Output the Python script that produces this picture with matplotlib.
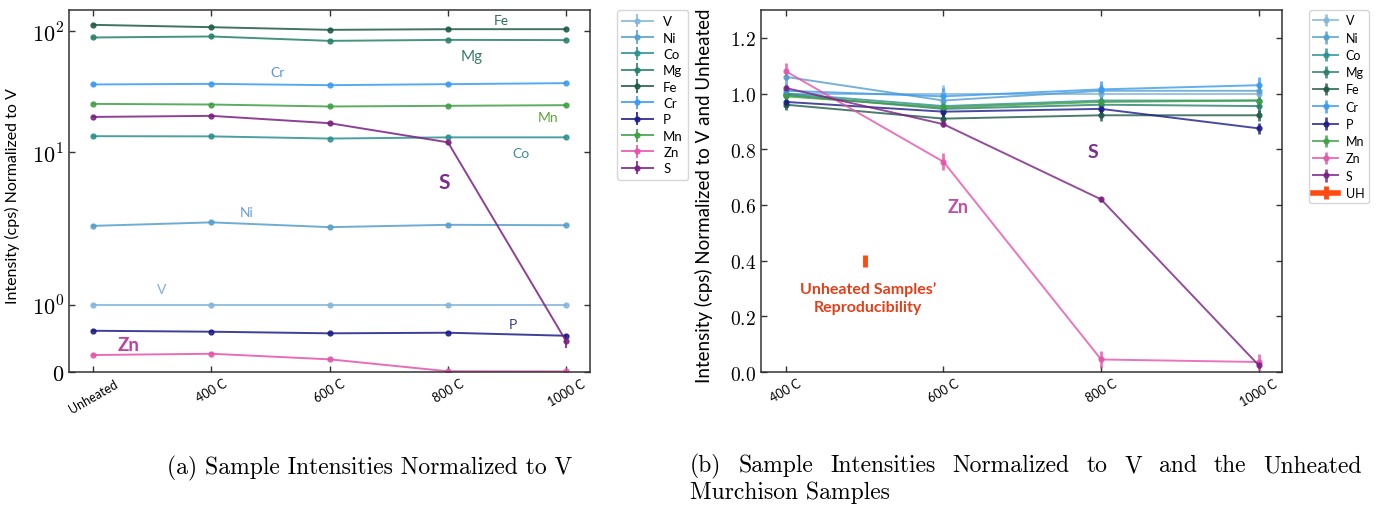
import matplotlib
matplotlib.use('Agg')
import matplotlib.pyplot as plt

plt.rcParams['mathtext.fontset'] = 'cm'
plt.rcParams['font.family'] = ['Lato', 'DejaVu Sans']

# ---------------- data ----------------
elements = ['V', 'Ni', 'Co', 'Mg', 'Fe', 'Cr', 'P', 'Mn', 'Zn', 'S']
colors = ['#82b6da', '#559fcc', '#2b9090', '#27806a', '#1f5a48',
          '#3a9af0', '#1c1c8a', '#3f9f45', '#e454aa', '#7a1f82']

temps_a = ['Unheated', '400 C', '600 C', '800 C', '1000 C']
temps_b = ['400 C', '600 C', '800 C', '1000 C']

# (a) intensities normalized to V
V_a = [1.0, 1.0, 1.0, 1.0, 1.0]
Ni_a = [2.48, 2.65, 2.42, 2.53, 2.51]
Co_a = [13.6, 13.55, 13.0, 13.3, 13.3]
Mg_a = [88.5, 90.2, 83.0, 84.6, 84.2]
Fe_a = [112.5, 107.6, 102.3, 103.6, 103.6]
Cr_a = [36.3, 36.7, 35.8, 36.5, 37.2]
P_a = [0.612, 0.598, 0.574, 0.583, 0.538]
Mn_a = [25.1, 24.8, 23.9, 24.2, 24.5]
Zn_a = [0.252, 0.271, 0.188, 0.011, 0.009]
S_a = [19.6, 20.0, 17.4, 12.1, 0.455]
err_a = [0.01, 0.03, 0.1, 0.5, 0.5, 0.2, 0.005, 0.1, 0.003, 0.1]

# (b) normalized to V and unheated samples
V_b = [1.00, 1.00, 1.00, 1.00]
Ni_b = [1.06, 0.975, 1.01, 1.01]
Co_b = [1.00, 0.955, 0.975, 0.975]
Mg_b = [0.995, 0.945, 0.96, 0.955]
Fe_b = [0.96, 0.91, 0.922, 0.922]
Cr_b = [1.01, 0.99, 1.015, 1.03]
P_b = [0.97, 0.935, 0.945, 0.875]
Mn_b = [0.99, 0.95, 0.97, 0.975]
Zn_b = [1.08, 0.755, 0.045, 0.036]
S_b = [1.02, 0.89, 0.62, 0.024]
err_b = [0.03, 0.02, 0.02, 0.02, 0.02, 0.03, 0.02, 0.015, 0.03, 0.01]

uh_x, uh_y, uh_err = 0.5, 0.398, 0.021

series_a = [V_a, Ni_a, Co_a, Mg_a, Fe_a, Cr_a, P_a, Mn_a, Zn_a, S_a]
series_b = [V_b, Ni_b, Co_b, Mg_b, Fe_b, Cr_b, P_b, Mn_b, Zn_b, S_b]

# ---------------- figure ----------------
fig = plt.figure(figsize=(13.76, 5.06), dpi=100)
ax1 = fig.add_axes([0.0501, 0.2628, 0.3786, 0.7154])
ax2 = fig.add_axes([0.5531, 0.2628, 0.3789, 0.7154])

for ax in (ax1, ax2):
    for sp in ax.spines.values():
        sp.set_color('#333333')
        sp.set_linewidth(1.1)
    ax.tick_params(direction='in', top=True, right=True, length=4,
                   width=1, color='#333333')

# (a)
for name, vals, err, c in zip(elements, series_a, err_a, colors):
    ax1.errorbar(range(len(temps_a)), vals, yerr=err, color=c, marker='o',
                 ms=3.5, lw=1.4, elinewidth=1.4, alpha=0.85, label=name)
ax1.set_yscale('symlog', linthresh=2)
ax1.set_xlim(-0.205, 4.2)
ax1.set_ylim(0, 149)
ax1.set_yticks([0, 1, 10, 100])
ax1.set_yticklabels(['$0$', '$10^{0}$', '$10^{1}$', '$10^{2}$'], fontsize=16)
ax1.yaxis.set_minor_locator(matplotlib.ticker.NullLocator())
ax1.set_xticks(range(len(temps_a)))
ax1.set_xticklabels(temps_a, rotation=30, fontsize=9)
ax1.set_ylabel('Intensity (cps) Normalized to V', fontsize=11.5)
ax1.yaxis.set_label_coords(-0.094, 0.49)

ann_a = [('Fe', 3.45, 123, '#2e6e5a', 10, 'normal'),
         ('Mg', 3.20, 61.7, '#3c7a66', 11, 'normal'),
         ('Cr', 1.555, 45.6, '#5a8ef0', 10, 'normal'),
         ('Mn', 3.85, 19.4, '#5da43a', 10, 'normal'),
         ('Co', 3.62, 9.9, '#3e8c9c', 10, 'normal'),
         ('S', 2.97, 5.73, '#7a2d8c', 15, 'bold'),
         ('Ni', 1.30, 3.2, '#6b9fd8', 10, 'normal'),
         ('V', 0.58, 1.23, '#86acd8', 10, 'normal'),
         ('P', 3.545, 0.711, '#3a3a9a', 10, 'normal'),
         ('Zn', 0.30, 0.405, '#c040a0', 13.5, 'bold')]
for t, x, y, c, fs, fw in ann_a:
    ax1.text(x, y, t, color=c, fontsize=fs, fontweight=fw,
             ha='center', va='center')

leg1 = ax1.legend(loc='upper left', bbox_to_anchor=(617 / 1376, 1 - 11 / 506),
                  bbox_transform=fig.transFigure, fontsize=9.5,
                  handlelength=2.3, labelspacing=0.33, borderaxespad=0)
leg1.get_frame().set_edgecolor('#cccccc')

# (b)
for name, vals, err, c in zip(elements, series_b, err_b, colors):
    ax2.errorbar(range(len(temps_b)), vals, yerr=err, color=c, marker='o',
                 ms=3.5, lw=1.4, elinewidth=2, alpha=0.8, label=name)
ax2.errorbar([uh_x], [uh_y], yerr=uh_err, color='#ff4a10', lw=4,
             elinewidth=3.5, label='UH')
ax2.set_xlim(-0.157, 3.15)
ax2.set_ylim(0, 1.3)
yt = [0.0, 0.2, 0.4, 0.6, 0.8, 1.0, 1.2]
ax2.set_yticks(yt)
ax2.set_yticklabels(['$%.1f$' % v for v in yt], fontsize=14)
ax2.set_xticks(range(len(temps_b)))
ax2.set_xticklabels(temps_b, rotation=30, fontsize=9)
ax2.set_ylabel('Intensity (cps) Normalized to V and Unheated', fontsize=13.5)
ax2.yaxis.set_label_coords(-0.092, 0.49)

ax2.text(1.093, 0.593, 'Zn', color='#c050a8', fontsize=13,
         fontweight='bold', ha='center', va='center')
ax2.text(1.949, 0.791, 'S', color='#7a2d8c', fontsize=14,
         fontweight='bold', ha='center', va='center')
ax2.text(0.522, 0.268, 'Unheated Samples\u2019\nReproducibility',
         color='#e0401a', fontsize=11.5, fontweight='bold',
         ha='center', va='center', linespacing=1.4)

leg2 = ax2.legend(loc='upper left', bbox_to_anchor=(1309 / 1376, 1 - 11 / 506),
                  bbox_transform=fig.transFigure, fontsize=9,
                  handlelength=2.0, handletextpad=0.6, labelspacing=0.42,
                  borderaxespad=0, borderpad=0.35)
leg2.get_frame().set_edgecolor('#cccccc')

# captions
cap = dict(fontfamily='cmr10', fontsize=17, va='center')
fig.text(370 / 1376, 1 - 468 / 506, '(a) Sample Intensities Normalized to V',
         ha='center', **cap)

words = ['(b)', 'Sample', 'Intensities', 'Normalized', 'to', 'V', 'and',
         'the', 'Unheated']
texts = [fig.text(0, 1 - 466 / 506, w, ha='left', **cap) for w in words]
fig.canvas.draw()
r = fig.canvas.get_renderer()
widths = [t.get_window_extent(r).width / fig.bbox.width for t in texts]
x0, x1 = 690 / 1376, 1362 / 1376
gap = (x1 - x0 - sum(widths)) / (len(words) - 1)
x = x0
for t, w in zip(texts, widths):
    t.set_x(x)
    x += w + gap
fig.text(x0, 1 - 493 / 506, 'Murchison Samples', ha='left', **cap)

fig.savefig('out.png', dpi=100)
